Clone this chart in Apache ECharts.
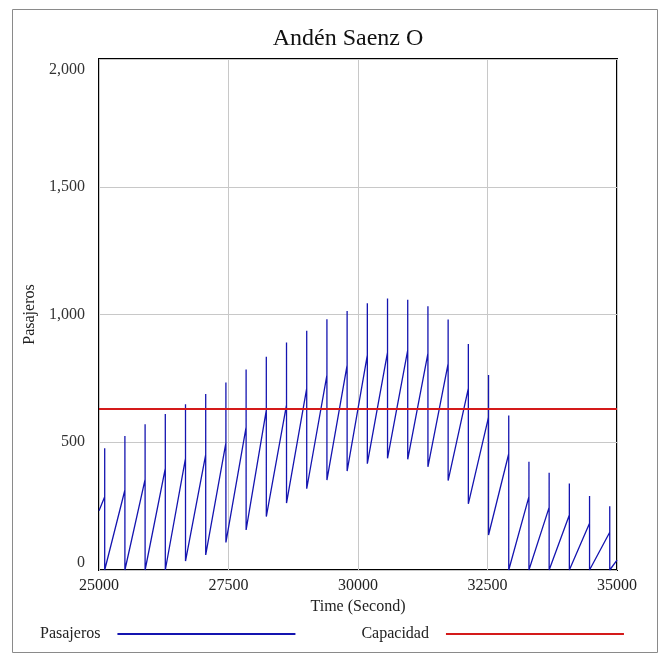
<!DOCTYPE html>
<html>
<head>
<meta charset="utf-8">
<script src="https://cdn.jsdelivr.net/npm/echarts@6/dist/echarts.min.js"></script>
<style>
html,body{margin:0;padding:0;background:#fff;}
#chart{width:660px;height:654px;}
</style>
</head>
<body>
<div id="chart"></div>
<script>
// ---- data ----
var titleText = 'Andén Saenz O';
var xTicks = [25000, 27500, 30000, 32500, 35000];
var yTicks = [0, 500, 1000, 1500, 2000];
var startPoint = [25000, 232];
var endPoint = [35000, 39];
var spikeTimes = [25110, 25500, 25890, 26280, 26670, 27060, 27450, 27840, 28230, 28620,
                  29010, 29400, 29790, 30180, 30570, 30960, 31350, 31740, 32130, 32520,
                  32910, 33300, 33690, 34080, 34470, 34860];
var rampEnd = [287, 313, 355, 398, 437, 452, 498, 559, 626, 646,
               711, 763, 802, 841, 852, 861, 848, 808, 711, 598,
               455, 287, 245, 215, 183, 148];
var peaks   = [477, 524, 570, 611, 649, 689, 734, 785, 835, 890,
               936, 981, 1014, 1044, 1063, 1058, 1032, 980, 885, 763,
               605, 424, 381, 339, 290, 250];
var lows    = [0, 0, 0, 0, 35, 59, 108, 157, 209, 262,
               318, 352, 387, 416, 437, 433, 404, 350, 259, 137,
               0, 0, 0, 0, 0, 0];
var capacity = 630;

// ---- build the series from the arrays ----
var pasajeros = [startPoint];
for (var k = 0; k < spikeTimes.length; k++) {
  pasajeros.push([spikeTimes[k], rampEnd[k]]);
  pasajeros.push([spikeTimes[k], peaks[k]]);
  pasajeros.push([spikeTimes[k], lows[k]]);
}
pasajeros.push(endPoint);
var capacidad = [[xTicks[0], capacity], [xTicks[xTicks.length - 1], capacity]];

var serif = '"Liberation Serif", "DejaVu Serif", serif';
var chart = echarts.init(document.getElementById('chart'), null, {renderer: 'canvas'});
chart.setOption({
  animation: false,
  backgroundColor: '#fff',
  graphic: [{
    type: 'rect', shape: {x: 12.5, y: 9.5, width: 645, height: 643},
    style: {fill: null, stroke: '#8a8a8a', lineWidth: 1}, silent: true
  }],
  title: {
    text: titleText, left: 343, top: 22, textAlign: 'center',
    textStyle: {fontFamily: serif, fontSize: 24, fontWeight: 'normal', color: '#111'}
  },
  grid: {left: 99, right: 43, top: 59, bottom: 84, show: true, borderColor: '#000', borderWidth: 2, backgroundColor: 'transparent'},
  legend: {
    left: 35, top: 621, align: 'right', itemWidth: 178, itemHeight: 14, itemGap: 65,
    itemStyle: {opacity: 0},
    textStyle: {fontFamily: serif, fontSize: 16, color: '#222', padding: [0, 12, 0, 0]},
    data: [{name: 'Pasajeros'}, {name: 'Capacidad'}]
  },
  xAxis: {
    type: 'value', min: xTicks[0], max: xTicks[xTicks.length - 1], interval: 2500,
    name: 'Time (Second)', nameLocation: 'middle', nameGap: 29,
    nameTextStyle: {fontFamily: serif, fontSize: 16, color: '#222'},
    axisLine: {show: false}, axisTick: {show: false},
    axisLabel: {fontFamily: serif, fontSize: 16, color: '#222', margin: 8, formatter: function (v) { return String(v); }},
    splitLine: {show: true, lineStyle: {color: '#c8c8c8', width: 1}}
  },
  yAxis: {
    type: 'value', min: yTicks[0], max: yTicks[yTicks.length - 1], interval: 500,
    name: 'Pasajeros', nameLocation: 'middle', nameGap: 60, nameRotate: 90,
    nameTextStyle: {fontFamily: serif, fontSize: 16, color: '#222'},
    axisLine: {show: false}, axisTick: {show: false},
    axisLabel: {
      fontFamily: serif, fontSize: 16, color: '#333', margin: 14,
      formatter: function (v) {
        var s = v.toLocaleString('en-US');
        if (v === yTicks[0]) return '{b|' + s + '}';
        if (v === yTicks[yTicks.length - 1]) return '{t|' + s + '}';
        return s;
      },
      rich: {
        b: {fontFamily: serif, fontSize: 16, color: '#333', padding: [0, 0, 14, 0]},
        t: {fontFamily: serif, fontSize: 16, color: '#333', padding: [22, 0, 0, 0]}
      }
    },
    splitLine: {show: true, lineStyle: {color: '#c8c8c8', width: 1}}
  },
  series: [
    {
      name: 'Pasajeros', type: 'line', data: pasajeros, showSymbol: false, symbol: 'none',
      lineStyle: {color: '#1414b0', width: 1.3}, itemStyle: {color: '#1414b0'}, z: 3
    },
    {
      name: 'Capacidad', type: 'line', data: capacidad, showSymbol: false, symbol: 'none',
      lineStyle: {color: '#d41a1a', width: 2}, itemStyle: {color: '#d41a1a'}, z: 4
    }
  ]
});
</script>
</body>
</html>
